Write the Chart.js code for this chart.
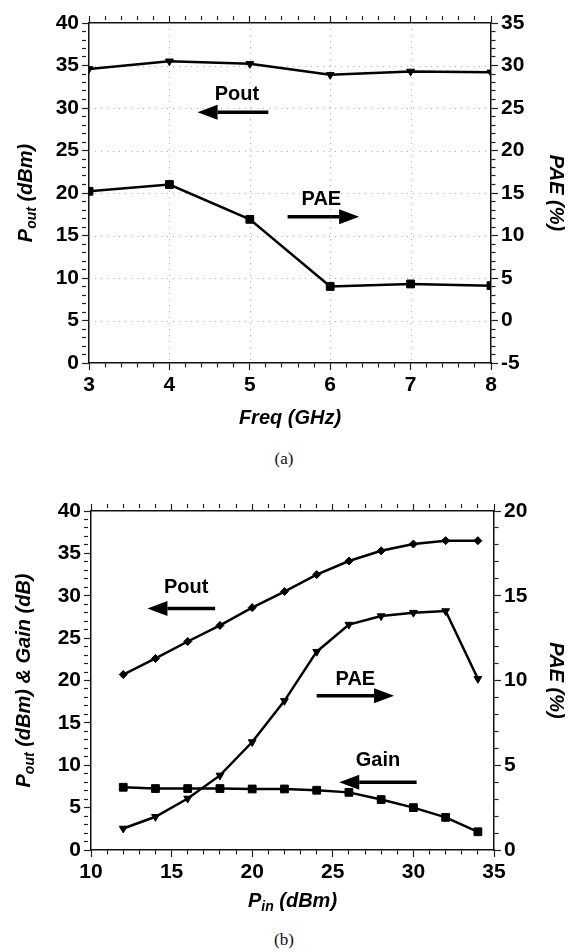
<!DOCTYPE html>
<html>
<head>
<meta charset="utf-8">
<script src="https://cdn.jsdelivr.net/npm/chart.js@4.4.0/dist/chart.umd.min.js"></script>
<style>
  html, body { margin: 0; padding: 0; background: #fff; }
  body { width: 568px; height: 952px; position: relative; overflow: hidden; }
  .wrap { position: absolute; left: 0; width: 568px; }
  .cap { position: absolute; left: 0; width: 568px; text-align: center;
         font-family: "Liberation Serif", "Times New Roman", serif; font-size: 17px; color: #111; }
</style>
</head>
<body>
<div class="wrap" style="top:0;height:440px"><canvas id="chartA" width="568" height="440"></canvas></div>
<div class="cap" style="top:449px">(a)</div>
<div class="wrap" style="top:470px;height:450px"><canvas id="chartB" width="568" height="450"></canvas></div>
<div class="cap" style="top:930px">(b)</div>
<script>
// (a) output power and PAE vs frequency
const freqGHz = [3, 4, 5, 6, 7, 8];
const poutVsFreq = [34.6, 35.5, 35.2, 33.9, 34.3, 34.2];
const paeVsFreq = [15.2, 16.0, 11.9, 4.0, 4.3, 4.1];

// (b) output power, gain and PAE vs input power
const pinDbm = [12, 14, 16, 18, 20, 22, 24, 26, 28, 30, 32, 34];
const poutVsPin = [20.7, 22.6, 24.6, 26.5, 28.6, 30.5, 32.5, 34.1, 35.3, 36.1, 36.5, 36.5];
const gainVsPin = [7.4, 7.25, 7.25, 7.25, 7.2, 7.2, 7.05, 6.8, 5.95, 5.0, 3.85, 2.15];
const paeVsPin = [1.27, 1.96, 3.04, 4.4, 6.37, 8.8, 11.7, 13.3, 13.8, 14.0, 14.1, 10.1];

const FONT = '"Liberation Sans", Arial, sans-serif';
const TITLE_FONT = 'italic bold 20px ' + FONT;
const SUB_FONT = 'italic bold 14px ' + FONT;
const NOTE_FONT = 'bold 20px ' + FONT;

const pts = (xs, ys) => xs.map((x, i) => ({ x: x, y: ys[i] }));
const isMajor = (v, m) => Math.abs(v / m - Math.round(v / m)) < 1e-6;

function axis(pos, min, max, step, major, extra) {
  return Object.assign({
    type: 'linear', position: pos, min: min, max: max,
    border: { display: true, color: '#111', width: 1.5 },
    grid: {
      drawOnChartArea: false, tickLength: 7, tickColor: '#222', tickWidth: 1.2,
      tickBorderDash: c => isMajor(c.tick.value, major) ? [] : [4, 40]
    },
    ticks: {
      stepSize: step, autoSkip: false, maxRotation: 0, minRotation: 0, padding: 3, color: '#000',
      font: { family: FONT, size: 21, weight: 'bold' },
      callback: v => isMajor(v, major) ? String(Math.round(v)) : ''
    }
  }, extra || {});
}

function topAxis(min, max, step, major) {
  const a = axis('top', min, max, step, major, {
    afterFit: s => { s.height = s.chart.options.plugins.paper.top; }
  });
  a.ticks.display = false;
  return a;
}

function drawRich(ctx, parts, cx, cy, rot) {
  ctx.save();
  ctx.translate(cx, cy);
  ctx.rotate(rot);
  ctx.textBaseline = 'middle';
  ctx.fillStyle = '#000';
  let w = 0;
  parts.forEach(p => { ctx.font = p.sub ? SUB_FONT : TITLE_FONT; p.w = ctx.measureText(p.t).width; w += p.w; });
  let x = -w / 2;
  parts.forEach(p => {
    ctx.font = p.sub ? SUB_FONT : TITLE_FONT;
    ctx.fillText(p.t, x, p.sub ? 6 : 0);
    x += p.w;
  });
  ctx.restore();
}

const paper = {
  id: 'paper',
  beforeDatasetsDraw(chart, args, o) {
    const { ctx, chartArea: a, scales } = chart;
    if (!o.gridX) return;
    ctx.save();
    ctx.strokeStyle = '#b0b0b0';
    ctx.lineWidth = 1;
    ctx.setLineDash([1, 5]);
    o.gridX.forEach(v => {
      const px = Math.round(scales.x.getPixelForValue(v)) + 0.5;
      ctx.beginPath(); ctx.moveTo(px, a.top); ctx.lineTo(px, a.bottom); ctx.stroke();
    });
    o.gridY.forEach(v => {
      const py = Math.round(scales.y.getPixelForValue(v)) + 0.5;
      ctx.beginPath(); ctx.moveTo(a.left, py); ctx.lineTo(a.right, py); ctx.stroke();
    });
    ctx.restore();
  },
  afterDraw(chart, args, o) {
    const { ctx, chartArea: a, scales } = chart;
    const midY = (a.top + a.bottom) / 2;
    drawRich(ctx, o.titleX, (a.left + a.right) / 2, a.bottom + o.titleXGap, 0);
    drawRich(ctx, o.titleY, scales.y.left + o.titleYGap, midY, -Math.PI / 2);
    drawRich(ctx, o.titleY1, scales.y1.right - o.titleY1Gap, midY, Math.PI / 2);

    ctx.save();
    o.notes.forEach(n => {
      ctx.fillStyle = '#000';
      ctx.strokeStyle = '#000';
      ctx.font = NOTE_FONT;
      ctx.textAlign = 'center';
      ctx.textBaseline = 'middle';
      ctx.fillText(n.text, scales.x.getPixelForValue(n.x), scales.y.getPixelForValue(n.y));
      const x0 = scales.x.getPixelForValue(n.from);
      const x1 = scales.x.getPixelForValue(n.to);
      const y = scales.y.getPixelForValue(n.ay);
      const dir = Math.sign(x1 - x0);
      const head = 20;
      ctx.lineWidth = 3.5;
      ctx.beginPath(); ctx.moveTo(x0, y); ctx.lineTo(x1 - dir * head, y); ctx.stroke();
      ctx.beginPath();
      ctx.moveTo(x1, y);
      ctx.lineTo(x1 - dir * head, y - 7.5);
      ctx.lineTo(x1 - dir * head, y + 7.5);
      ctx.closePath();
      ctx.fill();
    });
    ctx.restore();
  }
};

function series(data, yAxisID, style, radius, rotation) {
  return {
    data: data, yAxisID: yAxisID, borderColor: '#000', backgroundColor: '#000',
    borderWidth: 2.5, tension: 0, pointStyle: style, pointRadius: radius,
    pointRotation: rotation || 0, pointBorderWidth: 1, pointBackgroundColor: '#000'
  };
}

const common = {
  responsive: false, animation: false, devicePixelRatio: 1,
  layout: { padding: 0 },
  events: []
};

new Chart(document.getElementById('chartA'), {
  type: 'line',
  data: {
    datasets: [
      series(pts(freqGHz, poutVsFreq), 'y', 'triangle', 4.5, 180),
      series(pts(freqGHz, paeVsFreq), 'y1', 'rect', 5.5)
    ]
  },
  options: Object.assign({}, common, {
    plugins: {
      legend: { display: false }, tooltip: { enabled: false },
      paper: {
        top: 23,
        gridX: [4, 5, 6, 7], gridY: [5, 10, 15, 20, 25, 30, 35],
        titleX: [{ t: 'Freq (GHz)' }], titleXGap: 55,
        titleY: [{ t: 'P' }, { t: 'out', sub: true }, { t: ' (dBm)' }], titleYGap: 26,
        titleY1: [{ t: 'PAE (%)' }], titleY1Gap: 12,
        notes: [
          { text: 'Pout', x: 4.84, y: 31.6, from: 5.23, to: 4.35, ay: 29.5 },
          { text: 'PAE', x: 5.89, y: 19.2, from: 5.47, to: 6.36, ay: 17.2 }
        ]
      }
    },
    scales: {
      x: axis('bottom', 3, 8, 0.2, 1, { afterFit: s => { s.height = 77; } }),
      x2: topAxis(3, 8, 0.2, 1),
      y: axis('left', 0, 40, 1, 5, { afterFit: s => { s.width = 89; } }),
      y1: axis('right', -5, 35, 1, 5, { afterFit: s => { s.width = 77; } })
    }
  }),
  plugins: [paper]
});

new Chart(document.getElementById('chartB'), {
  type: 'line',
  data: {
    datasets: [
      series(pts(pinDbm, poutVsPin), 'y', 'rectRot', 4),
      series(pts(pinDbm, gainVsPin), 'y', 'rect', 5.5),
      series(pts(pinDbm, paeVsPin), 'y1', 'triangle', 4.5, 180)
    ]
  },
  options: Object.assign({}, common, {
    plugins: {
      legend: { display: false }, tooltip: { enabled: false },
      paper: {
        top: 41,
        titleX: [{ t: 'P' }, { t: 'in', sub: true }, { t: ' (dBm)' }], titleXGap: 51,
        titleY: [{ t: 'P' }, { t: 'out', sub: true }, { t: ' (dBm) & Gain (dB)' }], titleYGap: 24,
        titleY1: [{ t: 'PAE (%)' }], titleY1Gap: 12,
        notes: [
          { text: 'Pout', x: 15.9, y: 31.0, from: 17.7, to: 13.5, ay: 28.5 },
          { text: 'PAE', x: 26.4, y: 20.1, from: 24.0, to: 28.8, ay: 18.2 },
          { text: 'Gain', x: 27.8, y: 10.6, from: 30.2, to: 25.4, ay: 8.0 }
        ]
      }
    },
    scales: {
      x: axis('bottom', 10, 35, 1, 5, { afterFit: s => { s.height = 70; } }),
      x2: topAxis(10, 35, 1, 5),
      y: axis('left', 0, 40, 1, 5, { afterFit: s => { s.width = 91; } }),
      y1: axis('right', 0, 20, 1, 5, { afterFit: s => { s.width = 74; } })
    }
  }),
  plugins: [paper]
});
</script>
</body>
</html>
